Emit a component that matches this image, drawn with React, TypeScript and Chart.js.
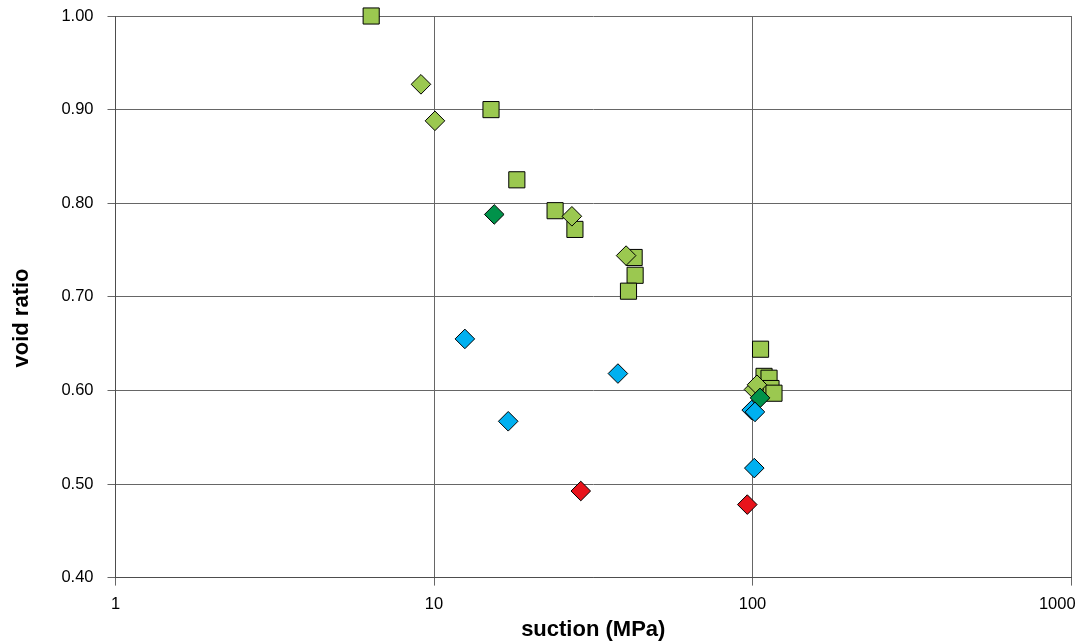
import React, { useEffect, useRef } from "react";
import { Chart, registerables } from "chart.js";

Chart.register(...registerables);

// Suction (MPa) and void ratio per sample group
const squareSuction = [6.35, 15.1, 18.2, 24.0, 27.7, 42.5, 42.8, 40.8, 106, 108.7, 112.7, 114.3, 116.8];
const squareVoid = [1.0, 0.9, 0.825, 0.792, 0.772, 0.742, 0.723, 0.706, 0.644, 0.615, 0.613, 0.602, 0.597];

const lightDiamondSuction = [9.1, 10.07, 27.1, 40.1, 101.1, 103.3];
const lightDiamondVoid = [0.927, 0.888, 0.786, 0.744, 0.601, 0.606];

const darkDiamondSuction = [15.46, 105.6];
const darkDiamondVoid = [0.788, 0.592];

const blueDiamondSuction = [12.5, 17.1, 37.8, 99.4, 101.8, 101.3];
const blueDiamondVoid = [0.655, 0.567, 0.618, 0.579, 0.577, 0.517];

const redDiamondSuction = [28.9, 96.3];
const redDiamondVoid = [0.4925, 0.478];

const xTicks = [1, 10, 100, 1000];
const yMin = 0.4;
const yMax = 1.0;

const toPoints = (xs: number[], ys: number[]) => xs.map((x, i) => ({ x, y: ys[i] }));

const yTitlePlugin = {
  id: "yTitle",
  afterDraw(chart: Chart) {
    const ctx = chart.ctx;
    ctx.save();
    ctx.translate(22, 318);
    ctx.rotate(-Math.PI / 2);
    ctx.font = "bold 22px 'Liberation Sans', Arial, sans-serif";
    ctx.fillStyle = "#000";
    ctx.textAlign = "center";
    ctx.textBaseline = "middle";
    ctx.fillText("void ratio", 0, 0);
    ctx.restore();
  },
};

export default function App() {
  const canvasRef = useRef<HTMLCanvasElement>(null);

  useEffect(() => {
    if (!canvasRef.current) return;
    const marker = (fill: string, style: string, r: number, order: number, xs: number[], ys: number[]) => ({
      data: toPoints(xs, ys),
      pointStyle: style,
      pointRadius: r,
      pointHoverRadius: r,
      backgroundColor: fill,
      borderColor: "#000",
      borderWidth: 1,
      showLine: false,
      clip: false,
      order,
    });

    const chart = new Chart(canvasRef.current, {
      type: "scatter",
      data: {
        datasets: [
          marker("#9BC850", "rect", 11.4, 5, squareSuction, squareVoid),
          marker("#9BC850", "rectRot", 9.8, 4, lightDiamondSuction, lightDiamondVoid),
          marker("#00924A", "rectRot", 9.8, 3, darkDiamondSuction, darkDiamondVoid),
          marker("#00B0F0", "rectRot", 9.8, 2, blueDiamondSuction, blueDiamondVoid),
          marker("#E8141C", "rectRot", 9.8, 1, redDiamondSuction, redDiamondVoid),
        ] as any,
      },
      options: {
        animation: false,
        responsive: false,
        layout: { padding: { top: 16, right: 13, left: 0, bottom: 0 } },
        plugins: { legend: { display: false }, tooltip: { enabled: false } },
        scales: {
          x: {
            type: "logarithmic",
            min: 1,
            max: 1000,
            afterBuildTicks: (scale: any) => {
              scale.ticks = xTicks.map((v) => ({ value: v, major: true }));
            },
            afterFit: (scale: any) => {
              scale.height = 66.4;
              scale.paddingLeft = 0;
              scale.paddingRight = 0;
            },
            ticks: {
              autoSkip: false,
              maxRotation: 0,
              padding: 9,
              color: "#000",
              font: { size: 16.5, family: "'Liberation Sans', Arial, sans-serif" },
              callback: (v: any) => (Number(v) === 1000 ? "1000      " : String(v)),
            },
            grid: { color: "#666666", lineWidth: 1, tickLength: 8 },
            border: { color: "#4d4d4d", width: 1 },
            title: {
              display: true,
              text: "suction (MPa)",
              color: "#000",
              font: { size: 22, weight: "bold", family: "'Liberation Sans', Arial, sans-serif" },
              padding: { top: 0, bottom: 1 },
            },
          },
          y: {
            min: yMin,
            max: yMax,
            afterFit: (scale: any) => {
              scale.width = 115.5;
              scale.paddingTop = 0;
              scale.paddingBottom = 0;
            },
            ticks: {
              stepSize: 0.1,
              padding: 14,
              color: "#000",
              font: { size: 16.5, family: "'Liberation Sans', Arial, sans-serif" },
              callback: (v: any) => Number(v).toFixed(2),
            },
            grid: { color: "#666666", lineWidth: 1, tickLength: 8 },
            border: { color: "#4d4d4d", width: 1 },
          },
        },
      } as any,
      plugins: [yTitlePlugin],
    });
    return () => chart.destroy();
  }, []);

  return (
    <div style={{ position: "fixed", left: 0, top: 0, background: "#fff" }}>
      <canvas ref={canvasRef} width={1084} height={644} style={{ display: "block" }} />
    </div>
  );
}
